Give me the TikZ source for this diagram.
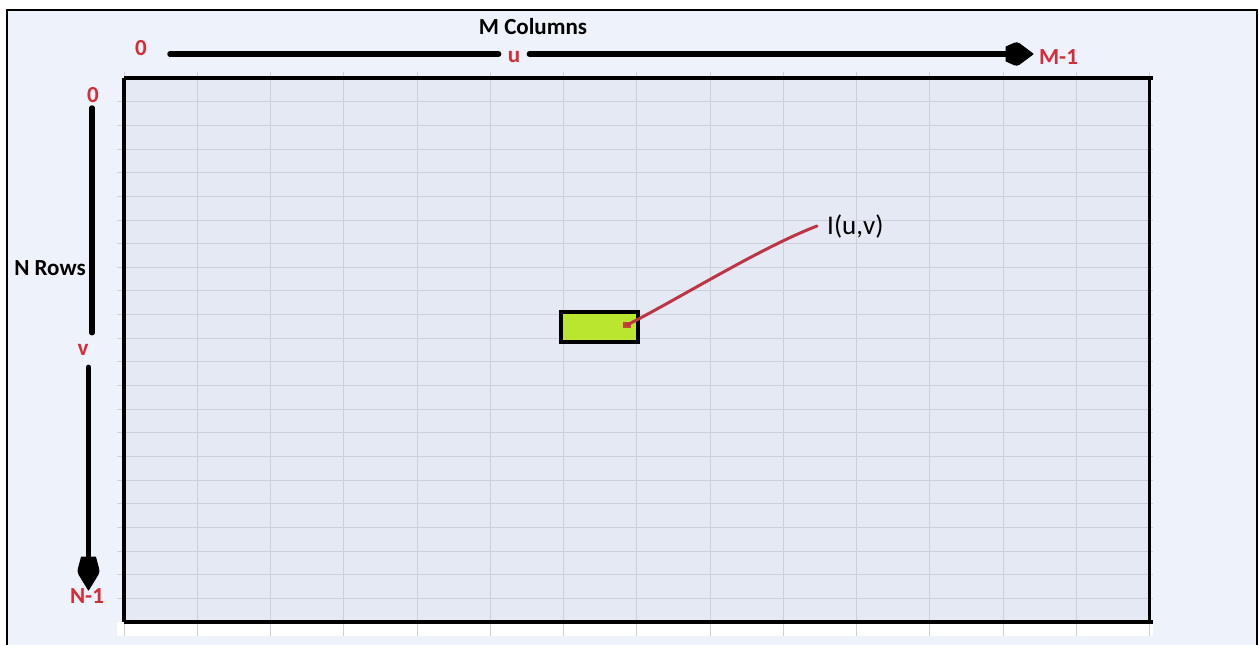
\documentclass[tikz,border=0pt]{standalone}
\usepackage{fontspec}
\setmainfont{Carlito}
\definecolor{framebg}{RGB}{238,242,250}
\definecolor{gridbg}{RGB}{229,233,243}
\definecolor{gridln}{RGB}{203,208,218}
\definecolor{idxred}{RGB}{214,44,58}
\definecolor{pixgreen}{RGB}{186,230,48}
\definecolor{inkred}{RGB}{190,52,68}
\begin{document}
\begin{tikzpicture}[x=1pt,y=-1pt,
  redlabel/.style={text=idxred, font=\fontsize{23}{27}\selectfont\bfseries, inner sep=0pt},
  axislabel/.style={font=\fontsize{23}{27}\selectfont\bfseries, inner sep=0pt},
  axisline/.style={line width=5.5pt, line cap=round},
  headshape/.style={fill=black, draw=black, line width=1pt, line join=round},
  gridline/.style={draw=gridln, line width=0.8pt},
  border/.style={line width=3.5pt},
  pixbox/.style={draw=black, line width=4pt, fill=pixgreen, minimum width=77pt, minimum height=30pt, inner sep=0pt},
  inkline/.style={draw=inkred, line width=3pt, line cap=round, line join=round},
]
\useasboundingbox (0,0) rectangle (1259,645);
\fill[white] (0,0) rectangle (1259,645);

% outer frame
\fill[framebg] (7,10) rectangle (1257,650);
\draw[line width=2pt] (7,650) -- (7,10) -- (1257,10) -- (1257,650);

% pixel grid: 14 columns, 23 rows
\fill[white] (117,622) rectangle (1153,636);
\fill[gridbg] (124,78) rectangle (1149.5,622);
\foreach \i in {0,...,14}
  \draw[gridline] ({124+\i*73.25},72) -- ({124+\i*73.25},636);
\foreach \j in {1,...,22}
  \draw[gridline] (117,{78+\j*23.65}) -- (1153,{78+\j*23.65});
\draw[border] (124,78) -- (1153,78);
\draw[border] (124,622) -- (1153,622);
\draw[border] (124,78) -- (124,622);
\draw[border] (1149.5,78) -- (1149.5,624);

% labels
\node[axislabel] (mcols) at (533,27) {M Columns};
\node[redlabel] (c0) at (141,48) {0};
\node[redlabel, inner xsep=9pt] (u) at (514,57.5) {u};
\node[redlabel] (cM) at (1058.5,57) {M-1};
\node[redlabel] (r0) at (93,95.5) {0};
\node[axislabel] (nrows) at (50,268) {N Rows};
\node[redlabel, inner ysep=11.5pt] (v) at (83,350) {v};
\node[redlabel] (rN) at (87,596) {N-1};
\node[font=\fontsize{27}{32}\selectfont, inner sep=0pt, anchor=west] (Iuv) at (827,226) {I(u,v)};

% column axis
\coordinate (colstart) at (170,54);
\coordinate (colend) at (1008,54);
\draw[axisline] (colstart) -- (u.west |- colstart);
\draw[axisline] (u.east |- colstart) -- (colend);
\begin{scope}[shift={(colend)}]
  \filldraw[headshape] (-2,-7) [rounded corners=3pt] -- (9,-12) [sharp corners] -- (25,0) [rounded corners=3pt] -- (9,12) [sharp corners] -- (-2,7) -- cycle;
\end{scope}

% row axis
\coordinate (rowstart) at (92,108);
\coordinate (rowend) at (88.5,559);
\draw[axisline] (rowstart) -- (rowstart |- v.north);
\draw[axisline] (rowend |- v.south) -- (rowend);
\begin{scope}[shift={(rowend)}]
  \filldraw[headshape] (-7,-2) -- (7,-2) [rounded corners=3pt] -- (11,13) [sharp corners] -- (0,31) [rounded corners=3pt] -- (-11,13) [sharp corners] -- cycle;
\end{scope}

% highlighted pixel and its value
\node[pixbox] (pix) at (599.5,326.5) {};
\coordinate (pixdot) at (627,325);
\fill[inkred!80!orange] (623,322) rectangle (631,328);
\draw[inkline] (pixdot) .. controls (680,298) and (760,248) .. ([xshift=-10pt]Iuv.west);
\end{tikzpicture}
\end{document}
